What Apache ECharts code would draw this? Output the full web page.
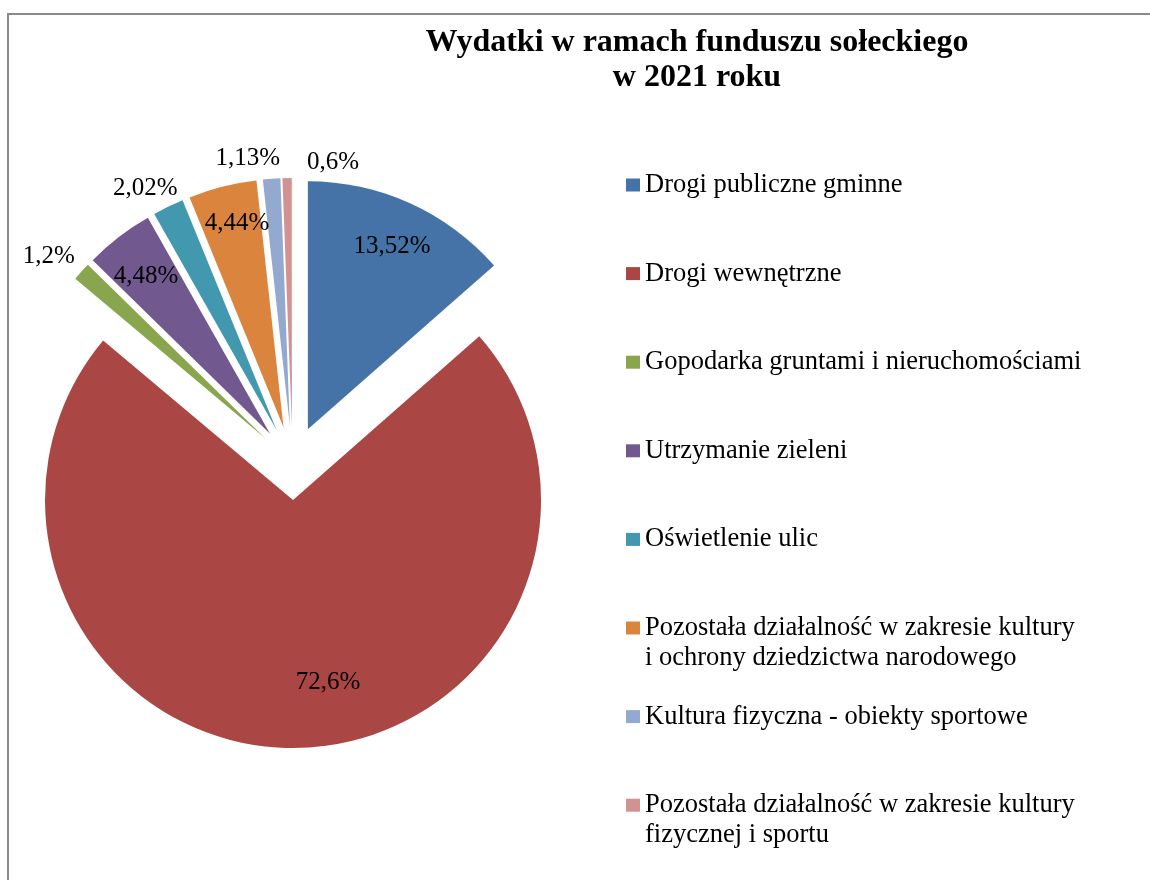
<!DOCTYPE html>
<html>
<head>
<meta charset="utf-8">
<script src="https://cdn.jsdelivr.net/npm/echarts@6/dist/echarts.min.js"></script>
<style>
html,body{margin:0;padding:0;background:#fff;}
#chart{width:1150px;height:880px;}
</style>
</head>
<body>
<div id="chart"></div>
<script>
// ---- data ----
const titleText = 'Wydatki w ramach funduszu sołeckiego\nw 2021 roku';
const categories = [
  'Drogi publiczne gminne',
  'Drogi wewnętrzne',
  'Gopodarka gruntami i nieruchomościami',
  'Utrzymanie zieleni',
  'Oświetlenie ulic',
  'Pozostała działalność w zakresie kultury\ni ochrony dziedzictwa narodowego',
  'Kultura fizyczna - obiekty sportowe',
  'Pozostała działalność w zakresie kultury\nfizycznej i sportu',
  ''
];
const shares = [13.52, 72.6, 1.2, 4.48, 2.02, 4.44, 1.13, 0.6, 0.01];
const legendNames = categories.slice(0, 8);

// ---- style ----
const colors = ['#4572A7', '#AA4643', '#89A54E', '#71588F', '#4198AF', '#DB843D', '#93A9CF', '#D19392', '#B9CD96'];
const CX = 292.6, CY = 463, R = 248, OFF = 37;
const labelDist = [0.81, 0.751, 1.14, 0.809, 1.109, 0.844, 1.094, 1.077];
const labelShift = [0.45, -10.2, -2.1, -0.6, -2.6, 1.4, -4.7, 10];
const serif = '"Liberation Serif", "Times New Roman", serif';

const total = shares.reduce((a, b) => a + b, 0);
const bisectors = [];
{
  let cum = 0;
  shares.forEach(v => { bisectors.push((cum + v / 2) / total * 360); cum += v; });
}
function fmt(v) { return String(v).replace('.', ',') + '%'; }

const chart = echarts.init(document.getElementById('chart'));
chart.setOption({
  animation: false,
  backgroundColor: '#fff',
  graphic: [{
    type: 'rect',
    shape: { x: 8, y: 14, width: 1300, height: 1000 },
    style: { fill: 'none', stroke: '#8a8a8a', lineWidth: 2 },
    silent: true
  }],
  title: {
    text: titleText,
    left: 697,
    top: 25,
    padding: 0,
    textAlign: 'center',
    textStyle: { fontFamily: serif, fontWeight: 'bold', fontSize: 32, lineHeight: 35, color: '#000' }
  },
  legend: {
    orient: 'vertical',
    left: 626,
    top: 140,
    padding: 0,
    itemWidth: 14,
    itemHeight: 13,
    itemGap: -1.4,
    icon: 'rect',
    selectedMode: false,
    data: legendNames,
    formatter: n => n.indexOf('\n') >= 0 ? ' \n' + n : ' \n' + n + '\n ',
    textStyle: { fontFamily: serif, fontSize: 26.5, lineHeight: 30, color: '#000' }
  },
  series: [{
    type: 'pie',
    center: [CX, CY],
    radius: R,
    startAngle: 90,
    clockwise: true,
    selectedMode: 'multiple',
    selectedOffset: OFF,
    avoidLabelOverlap: false,
    emphasis: { disabled: true },
    select: { itemStyle: { borderWidth: 0 } },
    itemStyle: { borderWidth: 0 },
    labelLine: { show: false },
    label: {
      show: true,
      position: 'inside',
      fontFamily: serif,
      fontSize: 25,
      color: '#000',
      formatter: p => fmt(p.value)
    },
    labelLayout: function (p) {
      const i = p.dataIndex;
      if (i >= labelDist.length || !p.labelRect) return {};
      const a = (bisectors[i] + labelShift[i]) * Math.PI / 180;
      const tx = CX + labelDist[i] * R * Math.sin(a);
      const ty = CY - labelDist[i] * R * Math.cos(a);
      const lx = p.labelRect.x + p.labelRect.width / 2;
      const ly = p.labelRect.y + p.labelRect.height / 2;
      return { dx: tx - lx, dy: ty - ly };
    },
    data: categories.map((n, i) => ({
      name: n,
      value: shares[i],
      selected: true,
      itemStyle: { color: colors[i] },
      label: i < 8 ? {} : { show: false }
    }))
  }]
});
</script>
</body>
</html>
